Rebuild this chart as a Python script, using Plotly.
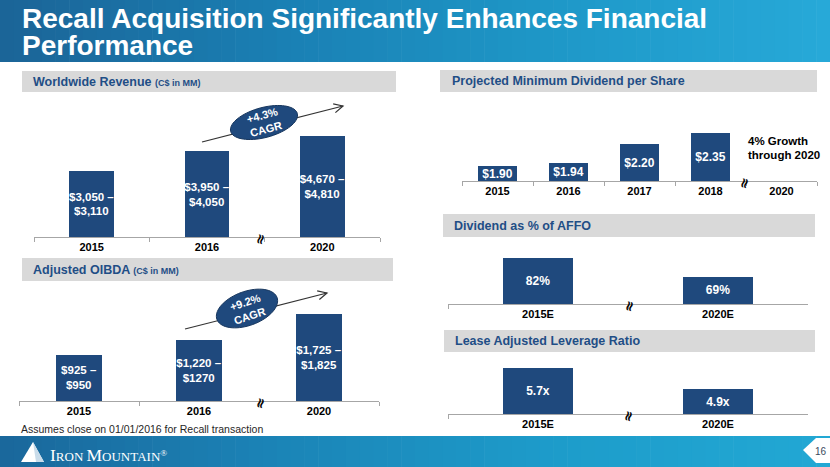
import math
import plotly.graph_objects as go

W, H = 830, 467

# ---------------- data ----------------
rev_years = ["2015", "2016", "2020"]
rev_low = [3050, 3950, 4670]
rev_high = [3110, 4050, 4810]
rev_labels = ["$3,050 –<br>$3,110", "$3,950 –<br>$4,050", "$4,670 –<br>$4,810"]
rev_cagr = "+4.3%<br>CAGR"

oibda_years = ["2015", "2016", "2020"]
oibda_low = [925, 1220, 1725]
oibda_high = [950, 1270, 1825]
oibda_labels = ["$925 –<br>$950", "$1,220 –<br>$1270", "$1,725 –<br>$1,825"]
oibda_cagr = "+9.2%<br>CAGR"

div_years = ["2015", "2016", "2017", "2018", "2020"]
div_values = [1.90, 1.94, 2.20, 2.35, None]
div_labels = ["$1.90", "$1.94", "$2.20", "$2.35", None]
div_note = ["4% Growth", "through 2020"]

affo_years = ["2015E", "2020E"]
affo_values = [82, 69]
affo_labels = ["82%", "69%"]

lev_years = ["2015E", "2020E"]
lev_values = [5.7, 4.9]
lev_labels = ["5.7x", "4.9x"]

title_lines = ["Recall Acquisition Significantly Enhances Financial", "Performance"]
footnote = "Assumes close on 01/01/2016 for Recall transaction"

# ---------------- style ----------------
BAR = "#1F497D"
HDR_TXT = "#1F4E86"
GRAY = "#D9D9D9"
AXIS = "#A6A6A6"
FONT = "Liberation Sans"


def px(x):
    return x / W


def py(y):
    return 1 - y / H


def hexmix(c1, c2, t):
    a = [int(c1[i:i + 2], 16) for i in (1, 3, 5)]
    b = [int(c2[i:i + 2], 16) for i in (1, 3, 5)]
    return "#%02x%02x%02x" % tuple(round(a[k] + (b[k] - a[k]) * t) for k in range(3))


def grad(stops, t):
    n = len(stops) - 1
    i = min(int(t * n), n - 1)
    return hexmix(stops[i], stops[i + 1], t * n - i)


def note(x, y, text, size, color, family=FONT, xanchor="left", angle=0):
    return dict(x=px(x), y=py(y), xref="paper", yref="paper", xanchor=xanchor,
                yanchor="middle", showarrow=False, text=text, textangle=angle,
                font=dict(family=family, size=size, color=color))


fig = go.Figure()
shapes = []
annotations = []

# panels: (axis suffix, x0, x1, ytop, ybottom, ymin, ymax, categories, values, base, labels, width, label size)
panels = [
    ("", 34, 380, 100, 237, 0, 6400, rev_years,
     [(l + h) / 2 for l, h in zip(rev_low, rev_high)], 0, rev_labels, 0.39, 11.5),
    ("2", 19, 379, 300, 401, 0, 2053, oibda_years,
     [(l + h) / 2 for l, h in zip(oibda_low, oibda_high)], 0, oibda_labels, 0.385, 11.5),
    ("3", 462, 817, 120, 181, 1.695, 1.695 + 61 / 73, div_years, div_values, 1.695, div_labels, 0.54, 12),
    ("4", 448, 808, 250, 304, 50.5, 50.5 + 54 / 1.46, affo_years, affo_values, 50.5, affo_labels, 0.385, 12),
    ("5", 448, 808, 360, 414, 3.95, 3.95 + 54 / 26.25, lev_years, lev_values, 3.95, lev_labels, 0.385, 12),
]

layout_axes = {}
for suf, x0, x1, yt, yb, ymin, ymax, cats, vals, base, labels, bw, fs in panels:
    keep = [i for i, v in enumerate(vals) if v is not None]
    fig.add_trace(go.Bar(
        x=[cats[i] for i in keep], y=[vals[i] - base for i in keep], base=base,
        text=[labels[i] for i in keep],
        xaxis="x" + suf, yaxis="y" + suf,
        marker=dict(color=BAR, line=dict(width=0)),
        width=bw, textposition="inside", insidetextanchor="middle",
        textangle=0, constraintext="none",
        textfont=dict(family=FONT, size=fs, color="white", weight="bold"),
        hoverinfo="skip", showlegend=False,
    ))
    layout_axes["xaxis" + suf] = dict(
        domain=[px(x0), px(x1)], anchor="y" + suf, type="category",
        categoryorder="array", categoryarray=cats,
        tickmode="array", tickvals=cats, ticktext=cats,
        showline=True, linecolor=AXIS, linewidth=1.2,
        ticks="outside", tickson="boundaries", ticklen=4, tickcolor=AXIS,
        showgrid=False, zeroline=False, fixedrange=True,
        tickfont=dict(family=FONT, size=11, color="black", weight="bold"),
        range=[-0.5, len(cats) - 0.5],
    )
    layout_axes["yaxis" + suf] = dict(
        domain=[py(yb), py(yt)], anchor="x" + suf, range=[ymin, ymax],
        visible=False, fixedrange=True,
    )

# ---------------- header / footer bands ----------------
hdr_stops = ["#1b6497", "#1a7fb3", "#1e98c8", "#27a9d8"]
ftr_stops = ["#1a679b", "#1b84b7", "#1d9cca", "#22a8d4"]
N = 60
for i in range(N):
    xa, xb = W * i / N, W * (i + 1) / N + 0.6
    shapes.append(dict(type="rect", xref="paper", yref="paper", x0=px(xa), x1=px(xb),
                       y0=py(62), y1=py(0), fillcolor=grad(hdr_stops, (i + 0.5) / N),
                       line=dict(width=0), layer="below"))
    shapes.append(dict(type="rect", xref="paper", yref="paper", x0=px(xa), x1=px(xb),
                       y0=py(467), y1=py(436), fillcolor=grad(ftr_stops, (i + 0.5) / N),
                       line=dict(width=0), layer="below"))

annotations.append(note(20, 19, "<b>%s</b>" % title_lines[0], 28, "white"))
annotations.append(note(20, 46, "<b>%s</b>" % title_lines[1], 28, "white"))

# ---------------- panel header bars ----------------
headers = [
    (22, 396, 71, 92, "<b>Worldwide Revenue </b><b><span style='font-size:9px'>(C$ in MM)</span></b>", 31),
    (22, 393, 258, 281, "<b>Adjusted OIBDA </b><b><span style='font-size:9px'>(C$ in MM)</span></b>", 31),
    (440, 817, 70, 92, "<b>Projected Minimum Dividend per Share</b>", 450),
    (443, 815, 214, 237, "<b>Dividend as % of AFFO</b>", 452),
    (444, 815, 330, 352, "<b>Lease Adjusted Leverage Ratio</b>", 453),
]
for x0, x1, y0, y1, txt, tx in headers:
    shapes.append(dict(type="rect", xref="paper", yref="paper", x0=px(x0), x1=px(x1),
                       y0=py(y1), y1=py(y0), fillcolor=GRAY, line=dict(width=0), layer="below"))
    annotations.append(note(tx, (y0 + y1) / 2, txt, 12.5, HDR_TXT))


# ---------------- CAGR arrows + ellipses ----------------
def arrow_shapes(tx, ty, hx, hy):
    out = [dict(type="line", xref="paper", yref="paper", x0=px(tx), y0=py(ty), x1=px(hx), y1=py(hy),
                line=dict(color="#333333", width=1.2), layer="above")]
    dx, dy = hx - tx, hy - ty
    L = math.hypot(dx, dy)
    ux, uy = dx / L, dy / L
    pxv, pyv = -uy, ux
    p1 = (hx - 9 * ux + 4.5 * pxv, hy - 9 * uy + 4.5 * pyv)
    p2 = (hx - 9 * ux - 4.5 * pxv, hy - 9 * uy - 4.5 * pyv)
    path = "M %f %f L %f %f L %f %f" % (px(p1[0]), py(p1[1]), px(hx), py(hy), px(p2[0]), py(p2[1]))
    out.append(dict(type="path", xref="paper", yref="paper", path=path,
                    line=dict(color="#333333", width=1.2), layer="above"))
    return out


def ellipse_shape(cx, cy, a, b, ang):
    th = math.radians(ang)
    pts = []
    for k in range(73):
        t = 2 * math.pi * k / 72
        ex = a * math.cos(t)
        ey = b * math.sin(t)
        x = cx + ex * math.cos(th) - ey * math.sin(th)
        y = cy + ex * math.sin(th) + ey * math.cos(th)
        pts.append((px(x), py(y)))
    path = "M " + " L ".join("%f %f" % p for p in pts) + " Z"
    return dict(type="path", xref="paper", yref="paper", path=path, fillcolor=BAR,
                line=dict(color="#17365D", width=1), layer="above")


cagr = [
    ((202, 142), (343, 106), (264, 122.5), 34.5, 15, -15, rev_cagr, -15),
    ((185, 329), (327, 293), (247, 308.5), 32, 17, -20, oibda_cagr, -18),
]
for tail, head, c, a, b, ang, txt, tang in cagr:
    shapes.extend(arrow_shapes(tail[0], tail[1], head[0], head[1]))
    shapes.append(ellipse_shape(c[0], c[1], a, b, ang))
    annotations.append(note(c[0], c[1], "<b>%s</b>" % txt, 11, "white", xanchor="center", angle=tang))

# ---------------- axis break symbols ----------------
for bx, by in [(260, 239), (260, 403), (744, 183), (629, 306), (628, 416)]:
    annotations.append(note(bx, by, "<b>≈</b>", 14, "black", family="DejaVu Sans",
                            xanchor="center", angle=-75))

# ---------------- notes ----------------
annotations.append(note(746, 141, "<b>%s</b>" % div_note[0], 11.5, "black"))
annotations.append(note(746, 155, "<b>%s</b>" % div_note[1], 11.5, "black"))
annotations.append(note(19, 429, footnote, 10.5, "#262626"))

# ---------------- footer logo + page number ----------------
shapes.append(dict(type="path", xref="paper", yref="paper",
                   path="M %f %f L %f %f L %f %f Z" % (px(21), py(462), px(33), py(442), px(44), py(462)),
                   fillcolor="white", line=dict(width=0), layer="above"))
shapes.append(dict(type="path", xref="paper", yref="paper",
                   path="M %f %f L %f %f L %f %f Z" % (px(33), py(442), px(44), py(462), px(36), py(462)),
                   fillcolor="#C9DCEA", line=dict(width=0), layer="above"))
annotations.append(note(48, 455,
                        "<span style='font-size:17.5px'>I</span>RON <span style='font-size:17.5px'>M</span>OUNTAIN<sup>®</sup>",
                        13, "white", family="Liberation Serif"))
shapes.append(dict(type="path", xref="paper", yref="paper",
                   path="M %f %f L %f %f L %f %f L %f %f L %f %f Z" % (
                       px(803), py(450), px(816), py(438), px(830), py(438), px(830), py(463), px(816), py(463)),
                   fillcolor="white", line=dict(width=0), layer="above"))
annotations.append(note(821, 451, "16", 10, "#3A4A5C", xanchor="center"))

fig.update_layout(
    width=W, height=H, margin=dict(l=0, r=0, t=0, b=0),
    paper_bgcolor="white", plot_bgcolor="rgba(0,0,0,0)",
    showlegend=False, shapes=shapes, annotations=annotations,
    bargap=0, **layout_axes,
)

fig.write_html(
    "out.html",
    config={"displayModeBar": False, "staticPlot": True},
    post_script="document.body.style.margin='0';document.body.style.padding='0';"
                "document.documentElement.style.overflow='hidden';",
)
